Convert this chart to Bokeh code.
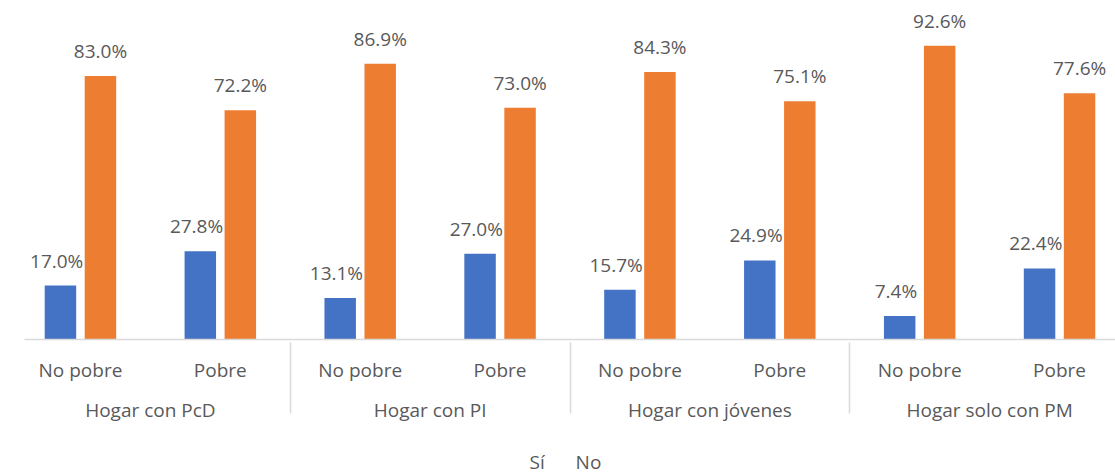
from bokeh.plotting import figure
from bokeh.models import FactorRange, ColumnDataSource, LabelSet, Legend, LegendItem, Range1d
from bokeh.core.properties import value
from bokeh.transform import dodge
from bokeh.layouts import column
from bokeh.embed import file_html
from bokeh.resources import INLINE

groups = ["Hogar con PcD", "Hogar con PI", "Hogar con jóvenes", "Hogar solo con PM"]
subgroups = ["No pobre", "Pobre"]
si_values = [17.0, 27.8, 13.1, 27.0, 15.7, 24.9, 7.4, 22.4]
no_values = [83.0, 72.2, 86.9, 73.0, 84.3, 75.1, 92.6, 77.6]
series_names = ["Sí", "No"]
colors = ["#4472C4", "#ED7D31"]

factors = [(g, s) for g in groups for s in subgroups]
src = ColumnDataSource(data=dict(
    x=factors,
    si=si_values,
    no=no_values,
    si_lbl=[f"{v:.1f}%" for v in si_values],
    no_lbl=[f"{v:.1f}%" for v in no_values],
))

FONT = "Open Sans"
TXT = "#595959"
FS = "19px"

xr = FactorRange(*factors, group_padding=0, subgroup_padding=0, factor_padding=0,
                 range_padding=-0.1, range_padding_units="absolute")

p = figure(x_range=xr, y_range=Range1d(0, 104.3),
           frame_width=1091, frame_height=331, output_backend="svg", toolbar_location=None,
           min_border_left=24, min_border_right=0, min_border_top=8, min_border_bottom=0)

r1 = p.vbar(x=dodge("x", -0.143, range=p.x_range), top="si", width=0.225, source=src,
            color=colors[0], line_color=None)
r2 = p.vbar(x=dodge("x", 0.143, range=p.x_range), top="no", width=0.225, source=src,
            color=colors[1], line_color=None)

for col, lbl, off in (("si", "si_lbl", -0.17), ("no", "no_lbl", 0.143)):
    p.add_layout(LabelSet(x=dodge("x", off, range=p.x_range), y=col, text=lbl, source=src,
                          y_offset=25, text_align="center", text_baseline="middle",
                          text_font=value(FONT), text_font_size=FS, text_color=TXT))

p.yaxis.visible = False
p.xgrid.visible = False
p.ygrid.visible = False
p.outline_line_color = None

ax = p.xaxis[0]
ax.axis_line_color = "#D9D9D9"
ax.axis_line_width = 1.5
ax.major_tick_line_color = None
ax.minor_tick_line_color = None
ax.major_label_text_font = FONT
ax.major_label_text_font_size = FS
ax.major_label_text_color = TXT
ax.major_label_standoff = 11
ax.group_text_font = FONT
ax.group_text_font_size = FS
ax.group_text_font_style = "normal"
ax.group_text_color = TXT
ax.group_label_orientation = "horizontal"
ax.separator_line_color = "#D9D9D9"
ax.separator_line_width = 1.5

# Legend in a small strip figure below the chart
p2 = figure(x_range=Range1d(0, 1), y_range=Range1d(0, 1),
            frame_width=1099, frame_height=50, output_backend="svg", toolbar_location=None,
            min_border_left=16, min_border_right=0, min_border_top=0, min_border_bottom=0)
p2.axis.visible = False
p2.xgrid.visible = False
p2.ygrid.visible = False
p2.outline_line_color = None
e1 = p2.vbar(x=[], top=[], width=0.1, color=colors[0], line_color=None)
e2 = p2.vbar(x=[], top=[], width=0.1, color=colors[1], line_color=None)

legend = Legend(items=[LegendItem(label=series_names[0], renderers=[e1]),
                       LegendItem(label=series_names[1], renderers=[e2])],
                orientation="horizontal", location="bottom_center",
                label_text_font=FONT, label_text_font_size=FS, label_text_color=TXT,
                glyph_width=13, glyph_height=13, label_standoff=3, spacing=10,
                border_line_color=None, background_fill_alpha=0, padding=2, margin=0)
p2.add_layout(legend)

open("out.html", "w").write(file_html(column(p, p2), INLINE))
